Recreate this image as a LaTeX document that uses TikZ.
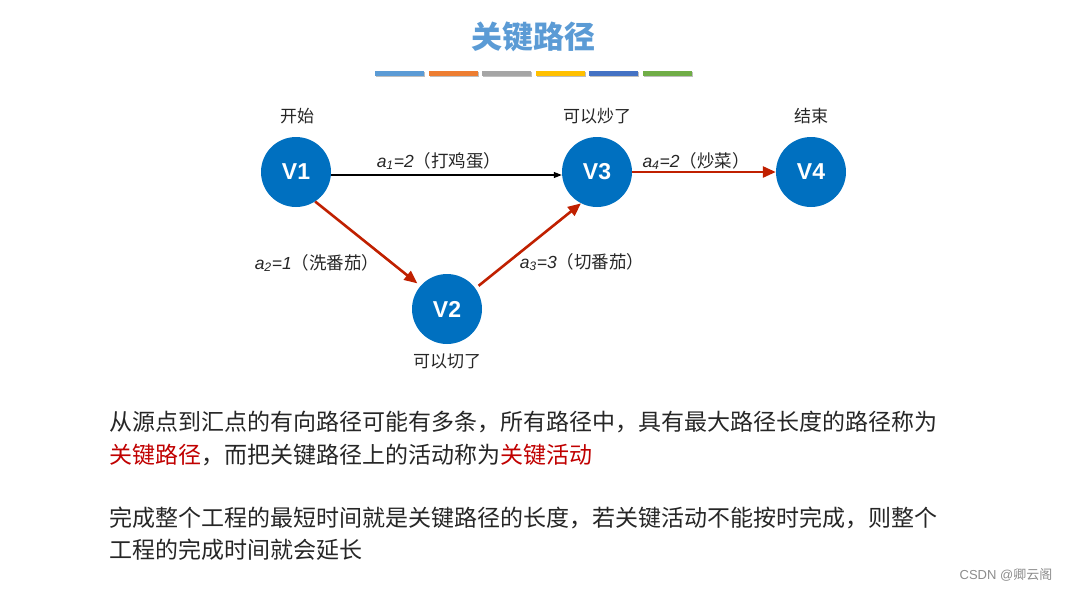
\documentclass[tikz,border=0pt]{standalone}
\usepackage{fontspec}
\setmainfont{Noto Sans CJK SC}
\newfontfamily\lat{Liberation Sans}
\usetikzlibrary{arrows.meta}

\definecolor{titleblue}{RGB}{91,155,213}
\definecolor{barorange}{RGB}{237,125,49}
\definecolor{bargray}{RGB}{165,165,165}
\definecolor{baryellow}{RGB}{255,192,0}
\definecolor{bardblue}{RGB}{68,114,196}
\definecolor{bargreen}{RGB}{112,173,71}
\definecolor{vblue}{RGB}{0,112,192}
\definecolor{pathred}{RGB}{192,32,0}
\definecolor{keyred}{RGB}{192,0,0}
\definecolor{textgray}{RGB}{38,38,38}

\tikzset{
  vertex/.style={circle, fill=vblue, minimum size=70pt, inner sep=0pt,
    text=white, font=\lat\bfseries\fontsize{23}{23}\selectfont},
  vlabel/.style={text=textgray, font=\fontsize{17}{17}\selectfont},
  elabel/.style={text=textgray, font=\fontsize{17.5}{17.5}\selectfont},
  para/.style={anchor=west, inner sep=0pt, text=textgray,
    font=\fontsize{23}{23}\selectfont},
  plain/.style={-{Triangle[length=8pt,width=6pt]}, line width=1.1pt, draw=black},
  critical/.style={-{Triangle[length=13pt,width=11pt]}, line width=2.6pt,
    draw=pathred},
}
\newcommand{\sub}[2]{{\lat\itshape #1\textsubscript{#2}}}

\begin{document}
\begin{tikzpicture}[x=1pt, y=-1pt]
  \useasboundingbox (0,0) rectangle (1071,590);

  % title and colour bars
  \node (title) at (533,37) [text=titleblue, font=\bfseries\fontsize{31}{31}\selectfont] {关键路径};
  \foreach \c [count=\i] in {titleblue,barorange,bargray,baryellow,bardblue,bargreen} {
    \fill[black!25] ({376+(\i-1)*53.6},72) rectangle +(49,5);
    \fill[\c] ({375+(\i-1)*53.6},71) rectangle +(49,5);
  }

  % vertices
  \node (v1) at (296,172) [vertex] {V1};
  \node (v2) at (447,309) [vertex] {V2};
  \node (v3) at (597,172) [vertex] {V3};
  \node (v4) at (811,172) [vertex] {V4};

  \node (s1) at (297,116) [vlabel] {开始};
  \node (s3) at (597,116) [vlabel] {可以炒了};
  \node (s4) at (811,116) [vlabel] {结束};
  \node (s2) at (447,361) [vlabel] {可以切了};

  % activities
  \draw[plain] (v1.east) ++(0,3) coordinate (a1s) -- (v3.west |- a1s);
  \draw[critical, shorten >=4pt] (v1.-57) -- (v2.139);
  \draw[critical, shorten <=4pt] (v2.36) -- (v3.-117);
  \draw[critical] (v3) -- (v4);

  \node (e1) at (439,161) [elabel] {\sub{a}{1}{\lat\itshape =2}（打鸡蛋）};
  \node (e2) at (317,263) [elabel] {\sub{a}{2}{\lat\itshape =1}（洗番茄）};
  \node (e3) at (582,262) [elabel] {\sub{a}{3}{\lat\itshape =3}（切番茄）};
  \node (e4) at (696,161) [elabel] {\sub{a}{4}{\lat\itshape =2}（炒菜）};

  % text
  \node (p1) at (109,422) [para] {从源点到汇点的有向路径可能有多条，所有路径中，具有最大路径长度的路径称为};
  \node (p2) at (109,455) [para] {\textcolor{keyred}{关键路径}，而把关键路径上的活动称为\textcolor{keyred}{关键活动}};
  \node (p3) at (109,518) [para] {完成整个工程的最短时间就是关键路径的长度，若关键活动不能按时完成，则整个};
  \node (p4) at (109,550) [para] {工程的完成时间就会延长};

  \node (mark) at (1006,575) [text=black!45, font=\fontsize{13}{13}\selectfont] {{\lat CSDN @}卿云阁};
\end{tikzpicture}
\end{document}
